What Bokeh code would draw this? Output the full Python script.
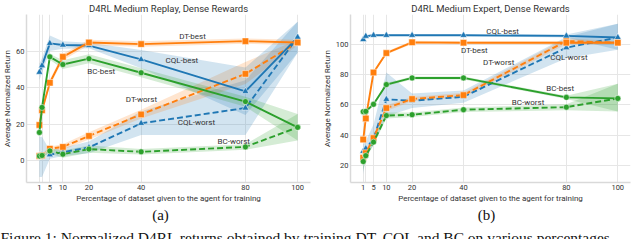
from bokeh.plotting import figure
from bokeh.layouts import column, row
from bokeh.models import FixedTicker, Label, Range1d
from bokeh.embed import file_html
from bokeh.resources import INLINE

# ---------------- data ----------------
x_pct = [1, 2, 5, 10, 20, 40, 80, 100]
x_ticks = [1, 2, 5, 10, 20, 40, 80, 100]

# Medium Replay (a)
mr_dt_best = [19.5, 27.5, 42.6, 56.8, 64.7, 63.8, 65.4, 64.7]
mr_dt_best_lo = [18, 26, 41, 55, 63.2, 62.3, 64, 63.2]
mr_dt_best_hi = [21, 29, 44.2, 58.5, 66.2, 65.3, 66.8, 66.2]
mr_dt_worst = [2.5, 2.8, 6.5, 7.5, 13.5, 25.3, 47.5, 64.7]
mr_dt_worst_lo = [1.5, 1.8, 5.3, 6, 11.5, 23, 42, 63.2]
mr_dt_worst_hi = [3.5, 3.8, 7.7, 9, 15.5, 27.8, 54, 66.2]
mr_cql_best = [48.4, 52, 64.2, 63.3, 63, 55.4, 37.9, 67.5]
mr_cql_best_lo = [44, 48, 60, 61.3, 61.5, 50.5, 25, 59]
mr_cql_best_hi = [53, 56, 68.5, 65.3, 64.5, 60.5, 51, 76]
mr_cql_worst = [2.8, 3.2, 3.2, 4.6, 7.2, 20.4, 28.8, 67.5]
mr_cql_worst_lo = [-9, -9, 1, 2.5, 4, 14, 14, 59]
mr_cql_worst_hi = [13, 13, 5.5, 7, 10.5, 27, 44, 76]
mr_bc_best = [15.4, 29.1, 56.8, 52.6, 55.8, 48.1, 32.3, 18.2]
mr_bc_best_lo = [14, 27.5, 55.2, 50.2, 53.3, 45.6, 29.5, 11]
mr_bc_best_hi = [17, 30.7, 58.4, 55, 58.3, 50.6, 35, 25.5]
mr_bc_worst = [2.5, 2.8, 5.3, 3.5, 6.3, 4.8, 7.5, 18.2]
mr_bc_worst_lo = [1.5, 1.8, 3.8, 1.5, 4.3, 3.3, 6, 11]
mr_bc_worst_hi = [3.5, 3.8, 6.8, 5.5, 8.3, 6.3, 9, 25.5]

# Medium Expert (b)
me_dt_best = [37, 51, 81.5, 94.4, 101.5, 101.3, 101.3, 101.3]
me_dt_best_lo = [36, 50, 80.5, 93.4, 100.5, 100.3, 100.3, 100.3]
me_dt_best_hi = [38, 52, 82.5, 95.4, 102.5, 102.3, 102.3, 102.3]
me_dt_worst = [25, 28, 38, 57.9, 63.9, 66.5, 102.4, 101.3]
me_dt_worst_lo = [23, 26, 36, 56, 62.5, 65, 100.5, 100.3]
me_dt_worst_hi = [27, 30, 40, 59.8, 65.3, 68, 104.3, 102.3]
me_cql_best = [103.4, 105.6, 106.2, 106.2, 106.2, 106.2, 105.8, 104.7]
me_cql_best_lo = [102.9, 105.1, 105.7, 105.7, 105.7, 105.7, 104.8, 96.6]
me_cql_best_hi = [103.9, 106.1, 106.7, 106.7, 106.7, 106.7, 106.8, 113.8]
me_cql_worst = [29.2, 31, 37.4, 63.7, 62.8, 65.4, 98, 104.7]
me_cql_worst_lo = [14, 27, 33, 52.5, 58, 61.5, 91, 96.6]
me_cql_worst_hi = [34, 36, 47, 81.5, 67.5, 69.5, 105, 113.8]
me_bc_best = [55.5, 55.7, 60.4, 73.5, 77.9, 77.9, 65, 64.3]
me_bc_best_lo = [54.5, 54.7, 59.4, 72.5, 76.9, 76.9, 64, 55.7]
me_bc_best_hi = [56.5, 56.7, 61.4, 74.5, 78.9, 78.9, 66, 74]
me_bc_worst = [22.4, 26.3, 35.3, 52.9, 53.5, 56.8, 58.5, 64.3]
me_bc_worst_lo = [16, 24.3, 33.3, 50.9, 52, 55.3, 56.5, 55.7]
me_bc_worst_hi = [25, 28.3, 37.3, 54.9, 55, 58.3, 60.5, 74]

BLUE, ORANGE, GREEN = "#1f77b4", "#ff7f0e", "#2ca02c"
FONT = "Roboto"
TXT = "#333333"

mr_series = [
    (mr_cql_worst, mr_cql_worst_lo, mr_cql_worst_hi, BLUE, "triangle", True),
    (mr_dt_worst, mr_dt_worst_lo, mr_dt_worst_hi, ORANGE, "square", True),
    (mr_bc_worst, mr_bc_worst_lo, mr_bc_worst_hi, GREEN, "circle", True),
    (mr_cql_best, mr_cql_best_lo, mr_cql_best_hi, BLUE, "triangle", False),
    (mr_dt_best, mr_dt_best_lo, mr_dt_best_hi, ORANGE, "square", False),
    (mr_bc_best, mr_bc_best_lo, mr_bc_best_hi, GREEN, "circle", False),
]
me_series = [
    (me_cql_worst, me_cql_worst_lo, me_cql_worst_hi, BLUE, "triangle", True),
    (me_dt_worst, me_dt_worst_lo, me_dt_worst_hi, ORANGE, "square", True),
    (me_bc_worst, me_bc_worst_lo, me_bc_worst_hi, GREEN, "circle", True),
    (me_cql_best, me_cql_best_lo, me_cql_best_hi, BLUE, "triangle", False),
    (me_dt_best, me_dt_best_lo, me_dt_best_hi, ORANGE, "square", False),
    (me_bc_best, me_bc_best_lo, me_bc_best_hi, GREEN, "circle", False),
]

mr_labels = [("DT-best", 59.7, 68), ("CQL-best", 55.6, 55), ("BC-best", 24.7, 49),
             ("DT-worst", 40.1, 33.2), ("CQL-worst", 61.2, 20.7), ("BC-worst", 75.5, 10.5)]
me_labels = [("CQL-best", 55.2, 109), ("DT-best", 44.2, 96.1), ("DT-worst", 53.7, 87.9),
             ("CQL-worst", 81, 91.2), ("BC-best", 77.6, 71), ("BC-worst", 65.1, 61.5)]


def panel(title, series, yr, yticks, labels, width, height, bl, br):
    p = figure(width=width, height=height, output_backend="svg", toolbar_location=None,
               x_range=Range1d(-3.95, 104.95), y_range=Range1d(*yr),
               min_border_left=bl, min_border_right=br, min_border_top=0,
               min_border_bottom=20)
    p.title.text = title
    p.title.align = "center"
    p.title.text_font = FONT
    p.title.text_font_size = "9.5px"
    p.title.text_font_style = "normal"
    p.title.text_color = TXT
    p.title.standoff = 1
    p.outline_line_color = None
    p.background_fill_color = "white"
    p.border_fill_color = "white"

    p.xaxis.ticker = FixedTicker(ticks=x_ticks)
    p.xaxis.major_label_overrides = {2: ""}
    p.yaxis.ticker = FixedTicker(ticks=yticks)
    for ax in (p.xaxis, p.yaxis):
        ax.major_tick_out = 0
        ax.major_tick_in = 0
        ax.minor_tick_out = 0
        ax.minor_tick_in = 0
        ax.axis_line_color = "#d9d9d9"
        ax.axis_line_width = 1.5
        ax.major_label_text_font = FONT
        ax.major_label_text_font_size = "7.5px"
        ax.major_label_text_color = TXT
        ax.major_label_standoff = 2
        ax.axis_label_text_font = FONT
        ax.axis_label_text_font_size = "8px"
        ax.axis_label_text_font_style = "normal"
        ax.axis_label_text_color = TXT
        ax.axis_label_standoff = 1
    p.xaxis.axis_label = "Percentage of dataset given to the agent for training"
    p.yaxis.axis_label = "Average Normalized Return"
    p.xgrid.grid_line_color = "#e6e6e6"
    p.ygrid.grid_line_color = "#e6e6e6"

    for ys, lo, hi, c, mk, dashed in series:
        p.varea(x=x_pct, y1=lo, y2=hi, fill_color=c, fill_alpha=0.2)
    for ys, lo, hi, c, mk, dashed in series:
        p.line(x_pct, ys, line_color=c, line_width=1.9,
               line_dash="6 3" if dashed else "solid")
        sz = 6.5 if mk == "square" else (7 if mk == "triangle" else 6)
        p.scatter(x_pct, ys, marker=mk, size=sz, fill_color=c,
                  line_color="white", line_width=0.5)

    for t, lx, ly in labels:
        p.add_layout(Label(x=lx, y=ly, text=t, text_align="center",
                           text_baseline="middle", text_font=FONT,
                           text_font_size="8px", text_color=TXT))
    return p


H = 205
CH = 239 - H
p1 = panel("D4RL Medium Replay, Dense Rewards", mr_series, (-12, 80), [0, 20, 40, 60],
           mr_labels, 319, H, 25, 9)
p2 = panel("D4RL Medium Expert, Dense Rewards", me_series, (8.5, 120), [20, 40, 60, 80, 100],
           me_labels, 313, H, 28, 2)

cap = figure(width=632, height=CH, output_backend="svg", toolbar_location=None,
             x_range=Range1d(0, 632), y_range=Range1d(0, CH),
             min_border=0)
cap.axis.visible = False
cap.grid.visible = False
cap.outline_line_color = None
cap.add_layout(Label(x=160, y=CH - 9, text="(a)", text_align="center",
                     text_baseline="middle", text_font="Liberation Serif",
                     text_font_size="15px", text_color="#111111"))
cap.add_layout(Label(x=486, y=CH - 9, text="(b)", text_align="center",
                     text_baseline="middle", text_font="Liberation Serif",
                     text_font_size="15px", text_color="#111111"))
cap.add_layout(Label(x=0, y=CH - 23, text="Figure 1:  Normalized D4RL returns obtained by training DT, CQL and BC on various percentages",
                     text_align="left", text_baseline="top", text_font="Liberation Serif",
                     text_font_size="15.5px", text_color="#111111"))

layout = column(row(p1, p2), cap)
open("out.html", "w").write(file_html(layout, INLINE))
